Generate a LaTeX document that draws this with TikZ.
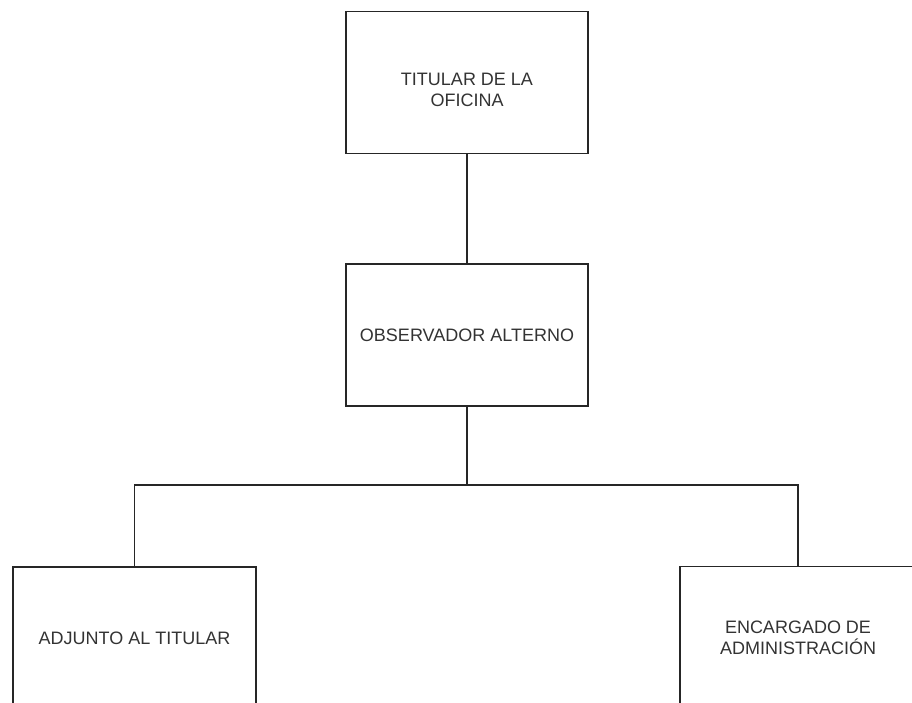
\documentclass[tikz,border=0pt]{standalone}
\usepackage{fontspec}
\setmainfont{Liberation Sans}
\begin{document}
\begin{tikzpicture}[x=1pt,y=-1pt,
  orgtext/.style={align=center, inner sep=0pt,
    font=\fontsize{18}{21}\selectfont, text=black!80},
  orgbox/.style={orgtext, draw=black!85, line width=1.5pt, rectangle,
    minimum width=242pt, minimum height=142pt},
  link/.style={draw=black!85, line width=1.5pt}]
\path[use as bounding box, clip] (0,0) rectangle (912,702);
\fill[white] (0,0) rectangle (912,702);
\node[orgbox, label={[orgtext, yshift=-7pt]center:{TITULAR DE LA\\OFICINA}}] (top) at (467,82.5) {};
\node[orgbox] (mid) at (467,335) {OBSERVADOR ALTERNO};
\node[orgbox, minimum width=243pt] (left) at (134.5,638) {ADJUNTO AL TITULAR};
\node[orgbox, minimum width=236pt] (right) at (798,637.5) {ENCARGADO DE\\ADMINISTRACIÓN};
\coordinate (j) at (467,485);
\draw[link] (top.south) -- (mid.north);
\draw[link] (mid.south) -- (j);
\draw[link] (left.north) |- (j) -| (right.north);
\end{tikzpicture}
\end{document}
